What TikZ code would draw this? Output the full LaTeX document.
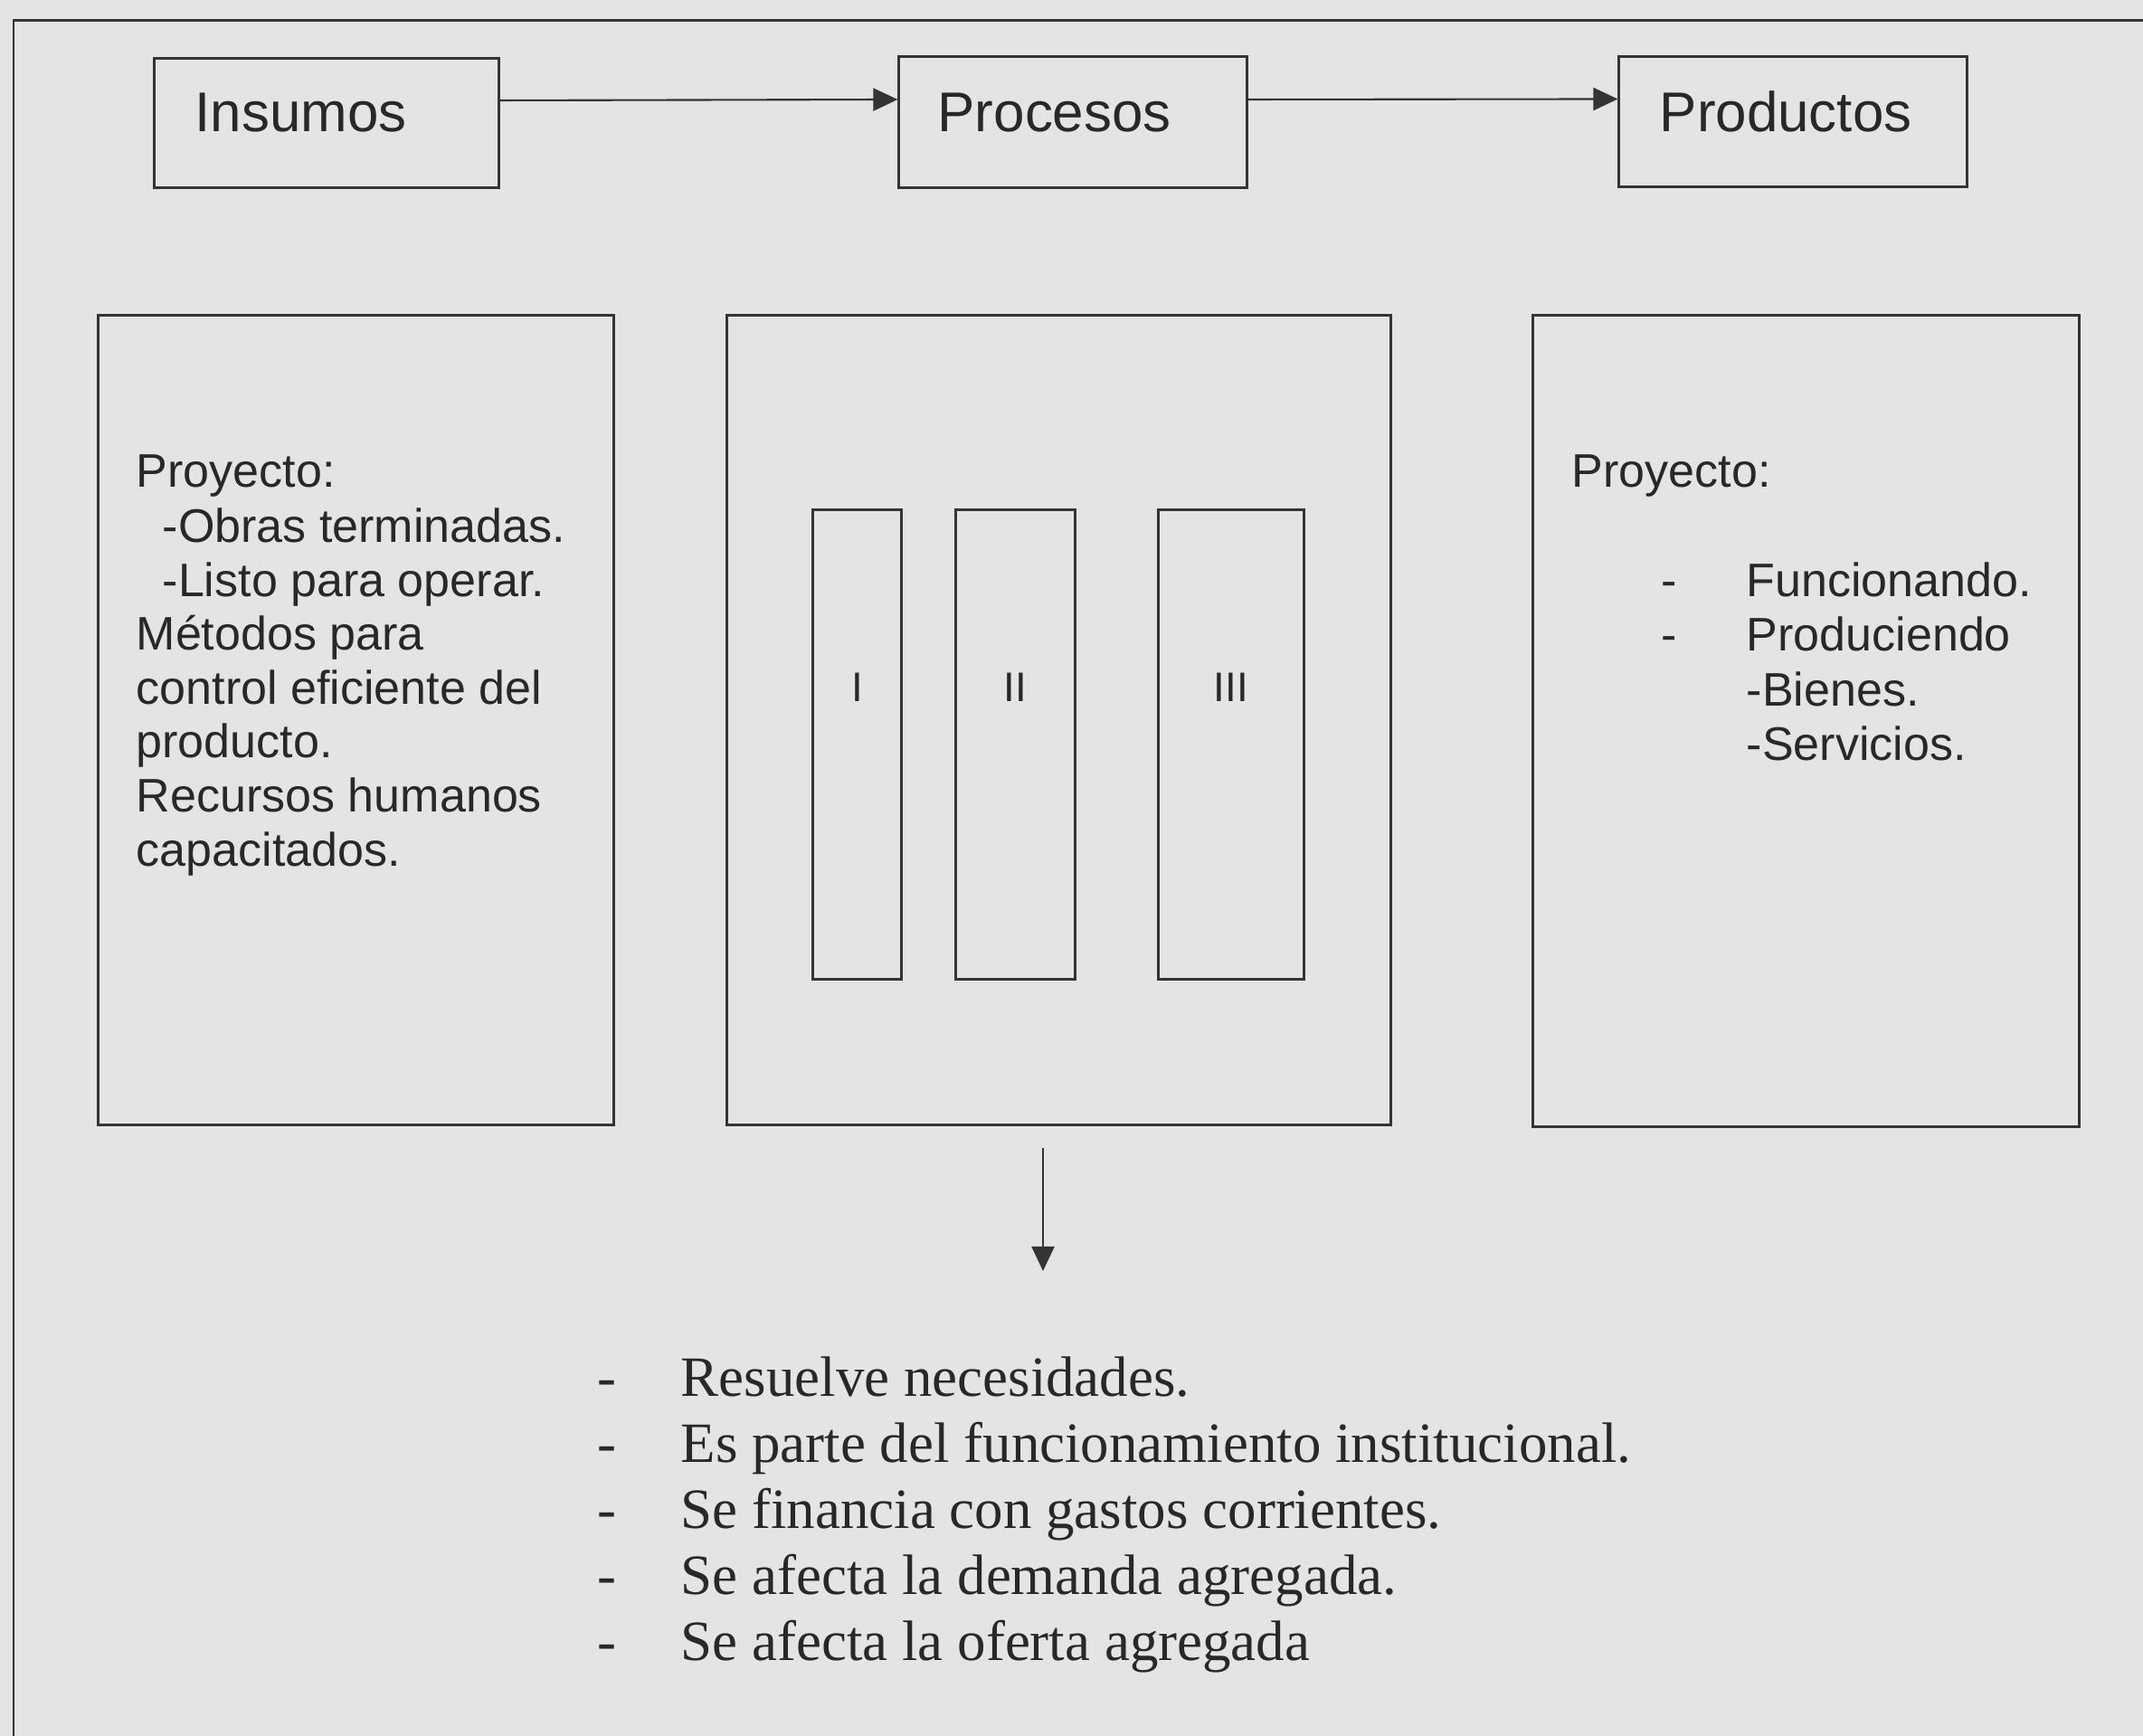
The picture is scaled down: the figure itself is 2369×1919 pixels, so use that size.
\documentclass[tikz,border=0pt]{standalone}
\usepackage{fontspec}
\setmainfont{Liberation Serif}
\newfontfamily\sansf{Liberation Sans}
\usetikzlibrary{arrows.meta}
\definecolor{bg}{RGB}{228,228,226}
\definecolor{ink}{RGB}{52,52,52}
\definecolor{txt}{RGB}{40,40,40}
\tikzset{
  box/.style={draw=ink, line width=0.85pt, rectangle, inner sep=0pt},
  arr/.style={draw=ink, line width=0.6pt, -{Triangle[length=0.27cm,width=0.25cm]}},
  toplabel/.style={anchor=base west, inner sep=0pt, text=txt, font=\sansf\fontsize{17.6pt}{21pt}\selectfont},
  bodytext/.style={anchor=base west, inner sep=0pt, text=txt, font=\sansf\fontsize{14.8pt}{17pt}\selectfont},
  numeral/.style={inner sep=0pt, text=txt, font=\sansf\fontsize{13pt}{15pt}\selectfont},
  listtext/.style={anchor=base west, inner sep=0pt, text=txt, font=\fontsize{17.9pt}{21pt}\selectfont},
}
\begin{document}
\begin{tikzpicture}[x=0.01cm, y=-0.01cm]
\path[use as bounding box, fill=bg] (0,0) rectangle (2369,1919);
\begin{scope}
\clip (0,0) rectangle (2369,1919);
\draw[ink, line width=0.85pt] (15,23) rectangle (2450,1990);
\end{scope}

% top row
\node[box, minimum width=3.80cm, minimum height=1.42cm] (ins) at (361,136) {};
\node[box, minimum width=3.84cm, minimum height=1.44cm] (pro) at (1186,135) {};
\node[box, minimum width=3.84cm, minimum height=1.43cm] (prd) at (1982,134.5) {};
\node[toplabel] (tins) at (215,146) {Insumos};
\node[toplabel] (tpro) at (1036,146) {Procesos};
\node[toplabel] (tprd) at (1834,146) {Productos};
\draw[arr] ([yshift=0.25cm]ins.east) -- ([yshift=0.25cm]pro.west);
\draw[arr] ([yshift=0.25cm]pro.east) -- ([yshift=0.25cm]prd.west);

% big boxes
\node[box, minimum width=5.69cm, minimum height=8.94cm] (left) at (393.5,796) {};
\node[box, minimum width=7.33cm, minimum height=8.94cm] (mid) at (1170.5,796) {};
\node[box, minimum width=6.03cm, minimum height=8.96cm] (right) at (1996.5,797) {};

% bars
\node[box, minimum width=0.97cm, minimum height=5.18cm] (b1) at (947.5,823) {};
\node[box, minimum width=1.31cm, minimum height=5.18cm] (b2) at (1122.5,823) {};
\node[box, minimum width=1.60cm, minimum height=5.18cm] (b3) at (1361,823) {};
\node[numeral] (n1) at (947.5,760) {I};
\node[numeral] (n2) at (1122.5,760) {II};
\node[numeral] (n3) at (1361,760) {III};

% left text
\node[bodytext] (l1) at (150,539) {Proyecto:};
\node[bodytext] (l2) at (179,599.6) {-Obras terminadas.};
\node[bodytext] (l3) at (179,659.2) {-Listo para operar.};
\node[bodytext] (l4) at (150,718.8) {Métodos para};
\node[bodytext] (l5) at (150,778.4) {control eficiente del};
\node[bodytext] (l6) at (150,838) {producto.};
\node[bodytext] (l7) at (150,897.6) {Recursos humanos};
\node[bodytext] (l8) at (150,957.2) {capacitados.};

% right text
\node[bodytext] (r1) at (1737,539) {Proyecto:};
\node[bodytext] (r2d) at (1836,660) {-};
\node[bodytext] (r2) at (1930,660) {Funcionando.};
\node[bodytext] (r3d) at (1836,720) {-};
\node[bodytext] (r3) at (1930,720) {Produciendo};
\node[bodytext] (r4) at (1930,781) {-Bienes.};
\node[bodytext] (r5) at (1930,841) {-Servicios.};

% down arrow
\coordinate (dtop) at (1153,1269);
\coordinate (dbot) at (1153,1405);
\draw[arr] (dtop) -- (dbot);

% bottom list
\node[listtext] (d1) at (660,1543) {-};
\node[listtext] (t1) at (752,1543) {Resuelve necesidades.};
\node[listtext] (d2) at (660,1616) {-};
\node[listtext] (t2) at (752,1616) {Es parte del funcionamiento institucional.};
\node[listtext] (d3) at (660,1689) {-};
\node[listtext] (t3) at (752,1689) {Se financia con gastos corrientes.};
\node[listtext] (d4) at (660,1762) {-};
\node[listtext] (t4) at (752,1762) {Se afecta la demanda agregada.};
\node[listtext] (d5) at (660,1835) {-};
\node[listtext] (t5) at (752,1835) {Se afecta la oferta agregada};
\end{tikzpicture}
\end{document}
